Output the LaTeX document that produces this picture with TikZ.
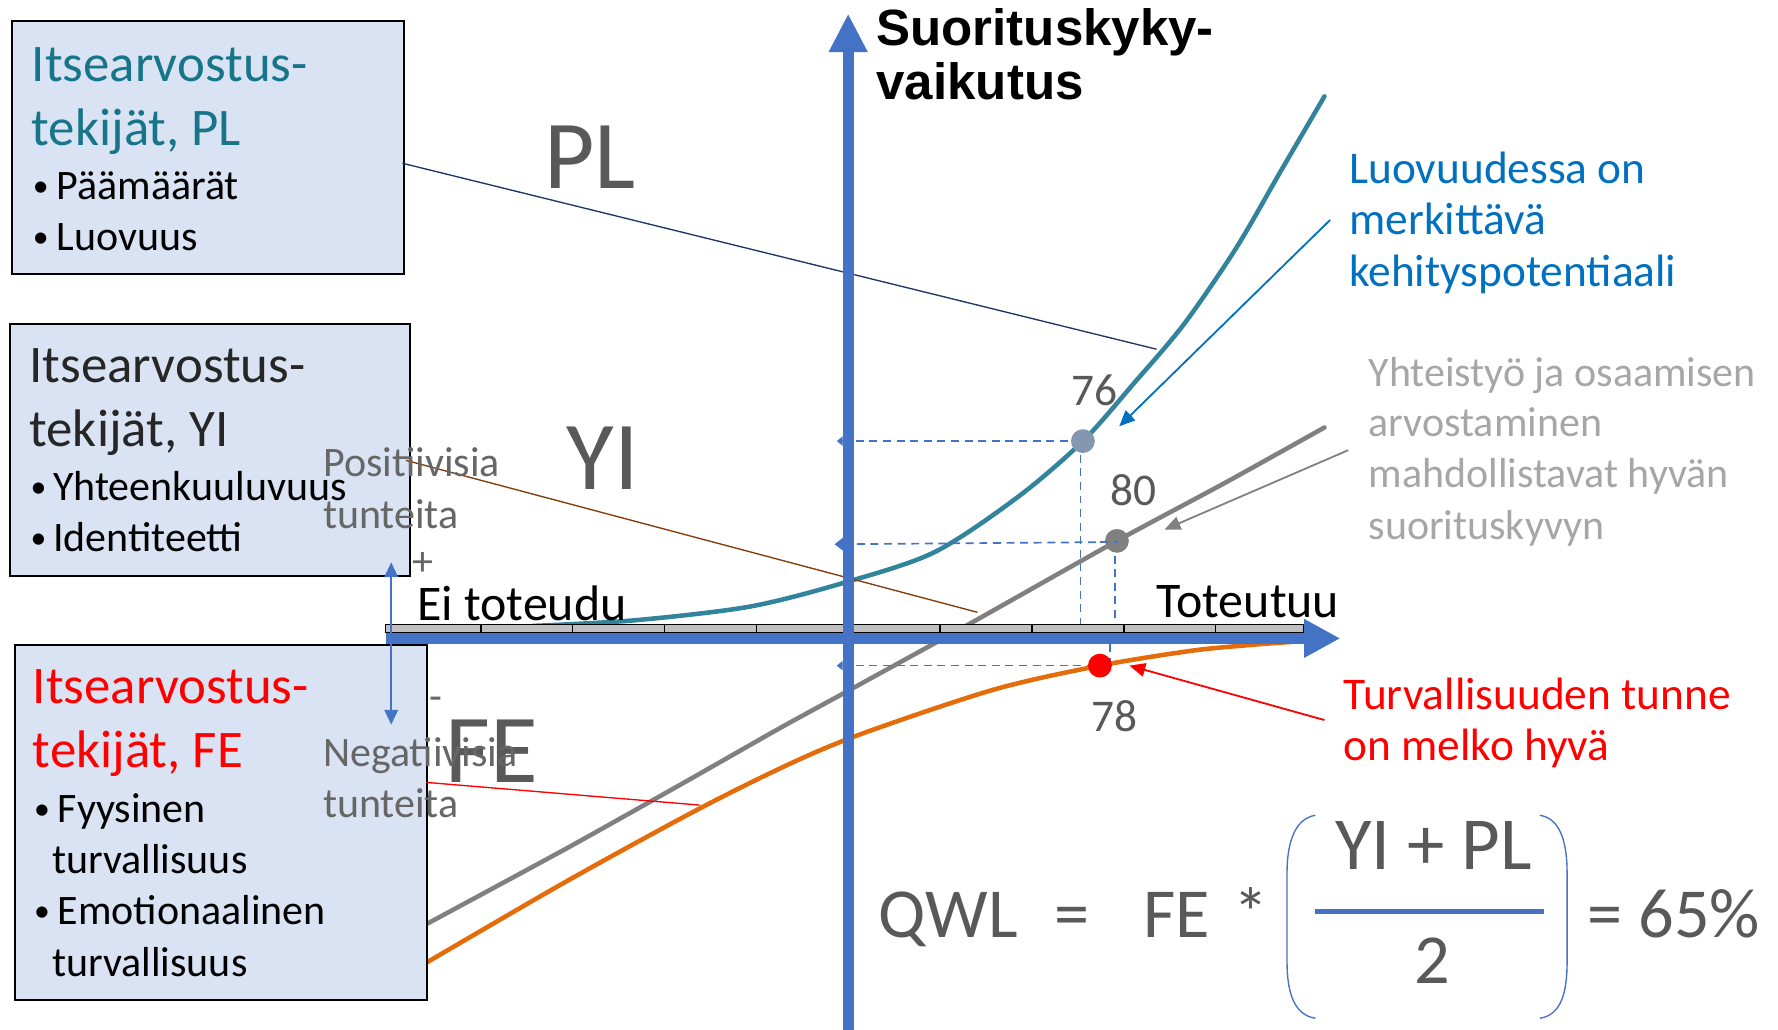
\documentclass[tikz,border=0pt]{standalone}
\usepackage{fontspec}
\setmainfont{Carlito}
\newfontfamily\axisfont{Liberation Sans}
\usetikzlibrary{arrows.meta}
\definecolor{axisblue}{HTML}{4472C4}
\definecolor{boxfill}{HTML}{DAE3F3}
\definecolor{plteal}{HTML}{31849B}
\definecolor{plhead}{HTML}{17758A}
\definecolor{darkgraytxt}{HTML}{595959}
\definecolor{midgraytxt}{HTML}{666666}
\definecolor{lightgraytxt}{HTML}{A6A6A6}
\definecolor{noteblue}{HTML}{0070C0}
\definecolor{navyline}{HTML}{203864}
\definecolor{brownline}{HTML}{843C0C}
\definecolor{curveorange}{HTML}{E46C0A}
\definecolor{curvegray}{HTML}{808080}
\definecolor{dotblue}{HTML}{8497B0}
\definecolor{bandgray}{HTML}{BFBFBF}
\definecolor{yihead}{HTML}{262626}
\newcommand{\hdsize}{\fontsize{23.3pt}{28pt}\selectfont}
\newcommand{\blsize}{\fontsize{18.5pt}{22pt}\selectfont}
\newcommand{\bigsize}{\fontsize{43pt}{50pt}\selectfont}
\newcommand{\frmsize}{\fontsize{31pt}{36pt}\selectfont}
\newcommand{\bulsym}{\raisebox{1.2pt}{\fontsize{14pt}{16pt}\selectfont •}}
\begin{document}
\begin{tikzpicture}[x=0.5pt,y=-0.5pt,
  txt/.style={anchor=base west, inner sep=0pt, outer sep=0pt},
  ctxt/.style={anchor=base, inner sep=0pt, outer sep=0pt},
  boxst/.style={draw=black, line width=0.9pt, fill=boxfill, anchor=north west, inner sep=0pt},
  curvest/.style={line width=2pt, line cap=round},
  dashst/.style={axisblue, line width=0.75pt, dash pattern=on 3.5pt off 2.5pt},
  thinline/.style={line width=0.6pt},
  notearrow/.style={line width=0.8pt, -{Triangle[length=7pt,width=6pt]}},
  dotst/.style={circle, inner sep=0pt, minimum size=10.5pt}
]
\useasboundingbox (0,0) rectangle (1568,908);

% curves
\draw[curvest, curvegray] plot[smooth, tension=0.4] coordinates
  {(376,815) (500,748) (600,692) (688,642) (752,607) (850,553) (985,477) (1080,426) (1168,377)};
\draw[curvest, curveorange] plot[smooth, tension=0.5] coordinates
  {(376,849) (500,777) (617,713) (700,672) (763,646) (877,608) (970,587) (1050,574) (1100,569) (1140,566)};
\draw[curvest, plteal] plot[smooth, tension=0.5] coordinates
  {(470,552) (560,547) (661,535) (744,514) (824,487) (898,438) (955,389) (1000,338) (1044,286) (1090,219) (1130,150) (1168,85)};

% dashed guide lines
\draw[dashst, {Triangle[length=2.5pt,width=4pt]}-] (738,389) -- (955,389);
\draw[dashst] (953,389) -- (953,556);
\draw[dashst, {Triangle[length=4pt,width=6pt]}-] (736,480) -- (985,478);
\draw[dashst] (983,478) -- (983,556);
\draw[dashst, {Triangle[length=2.5pt,width=4pt]}-] (738,587) -- (970,587);
\draw[dashst] (979,568) -- (979,587);

% named coordinates for connector ends
\coordinate (plend) at (1020,308);
\coordinate (yiend) at (862,540);
\coordinate (feend) at (617,710);
\coordinate (bluestart) at (1173,194);
\coordinate (blueend) at (987,376);
\coordinate (graystart) at (1189,397);
\coordinate (grayend) at (1027,467);
\coordinate (redstart) at (1168,635);
\coordinate (redend) at (996,587);

% boxes
\node[boxst, minimum width=172.5pt, minimum height=111.5pt] (plbox) at (10,18) {};
\node[boxst, minimum width=176.5pt, minimum height=111pt] (yibox) at (8,285) {};
\node[boxst, minimum width=182pt, minimum height=156.5pt] (febox) at (12,568) {};

\coordinate (plstart) at (355,144);
\coordinate (yistart) at (358,406);
\coordinate (festart) at (376,690);

% connector lines from boxes
\draw[thinline, navyline] (plstart) -- (plend);
\draw[thinline, brownline] (yistart) -- (yiend);
\draw[thinline, red] (festart) -- (feend);

% ruler band and axes
\draw[line width=0.6pt, fill=bandgray] (340,551) rectangle (1150,558);
\foreach \tx in {424,505,586,667,748,829,910,991,1072}
  \draw[line width=0.7pt] (\tx,551) -- (\tx,558);
\draw[axisblue, line width=5pt, -{Triangle[length=16pt,width=16pt]}] (340,563) -- (1182,563);
\draw[axisblue, line width=5pt, -{Triangle[length=17pt,width=16pt]}] (748,908) -- (748,12);

% small +/- arrow
\draw[axisblue, line width=0.7pt, {Triangle[length=6.5pt,width=6pt]}-{Triangle[length=6.5pt,width=6pt]}] (345,496) -- (345,639);

% box texts
\node[txt, text=plhead] (pl1) at (28,72) {\hdsize Itsearvostus-};
\node[txt, text=plhead] (pl2) at (28,128) {\hdsize tekijät, PL};
\node[txt] (plb1) at (29,176) {\bulsym};
\node[txt] (plt1) at (50,176) {\blsize Päämäärät};
\node[txt] (plb2) at (29,221) {\bulsym};
\node[txt] (plt2) at (50,221) {\blsize Luovuus};

\node[txt, text=yihead] (yi1) at (26,337) {\hdsize Itsearvostus-};
\node[txt, text=yihead] (yi2) at (26,394) {\hdsize tekijät, YI};
\node[txt] (yib1) at (27,441) {\bulsym};
\node[txt] (yit1) at (47,441) {\blsize Yhteenkuuluvuus};
\node[txt] (yib2) at (27,486) {\bulsym};
\node[txt] (yit2) at (47,486) {\blsize Identiteetti};

\node[txt, text=red] (fe1) at (29,620) {\hdsize Itsearvostus-};
\node[txt, text=red] (fe2) at (29,677) {\hdsize tekijät, FE};
\node[txt] (feb1) at (30,725) {\bulsym};
\node[txt] (fet1) at (51,725) {\blsize Fyysinen};
\node[txt] (fet2) at (46,770) {\blsize turvallisuus};
\node[txt] (feb2) at (30,815) {\bulsym};
\node[txt] (fet3) at (51,815) {\blsize Emotionaalinen};
\node[txt] (fet4) at (46,861) {\blsize turvallisuus};

% big labels
\node[txt, text=darkgraytxt] (lblpl) at (480,166) {\bigsize PL};
\node[txt, text=darkgraytxt] (lblyi) at (500,432) {\bigsize YI};
\node[txt, text=darkgraytxt] (lblfe) at (393,690) {\bigsize FE};

% feelings labels
\node[txt, text=midgraytxt] (pos1) at (285,420) {\blsize Positiivisia};
\node[txt, text=midgraytxt] (pos2) at (285,466) {\blsize tunteita};
\node[txt, text=midgraytxt] (neg1) at (285,676) {\blsize Negatiivisia};
\node[txt, text=midgraytxt] (neg2) at (285,721) {\blsize tunteita};
\node[anchor=center, inner sep=0pt, text=midgraytxt] (plus) at (373,497) {\blsize +};
\node[anchor=center, inner sep=0pt, text=midgraytxt] (minus) at (384,621) {\blsize -};

% axis labels
\node[txt] (eitot) at (368,547) {\fontsize{22pt}{26pt}\selectfont Ei toteudu};
\node[txt] (tot) at (1020,545) {\fontsize{22pt}{26pt}\selectfont Toteutuu};
\node[txt] (yl1) at (773,40) {\axisfont\bfseries\fontsize{22.5pt}{26pt}\selectfont Suorituskyky-};
\node[txt] (yl2) at (773,88) {\axisfont\bfseries\fontsize{22.5pt}{26pt}\selectfont vaikutus};

% values
\node[ctxt, text=darkgraytxt] (v76) at (965,358) {\fontsize{20pt}{24pt}\selectfont 76};
\node[ctxt, text=darkgraytxt] (v80) at (1000,446) {\fontsize{20pt}{24pt}\selectfont 80};
\node[ctxt, text=darkgraytxt] (v78) at (983,645) {\fontsize{20pt}{24pt}\selectfont 78};

% dots
\node[dotst, fill=dotblue] (d76) at (955,389) {};
\node[dotst, fill=curvegray] (d80) at (985,477) {};
\node[dotst, fill=red] (d78) at (970,587) {};
\draw[dashst] (970,478) -- (985,478);

% notes
\node[txt, text=noteblue] (n1) at (1190,162) {\fontsize{20pt}{24pt}\selectfont Luovuudessa on};
\node[txt, text=noteblue] (n2) at (1190,207) {\fontsize{20pt}{24pt}\selectfont merkittävä};
\node[txt, text=noteblue] (n3) at (1190,253) {\fontsize{20pt}{24pt}\selectfont kehityspotentiaali};
\node[txt, text=lightgraytxt] (g1) at (1207,341) {\blsize Yhteistyö ja osaamisen};
\node[txt, text=lightgraytxt] (g2) at (1207,385) {\blsize arvostaminen};
\node[txt, text=lightgraytxt] (g3) at (1207,430) {\blsize mahdollistavat hyvän};
\node[txt, text=lightgraytxt] (g4) at (1207,476) {\blsize suorituskyvyn};
\node[txt, text=red] (r1) at (1185,626) {\fontsize{20pt}{24pt}\selectfont Turvallisuuden tunne};
\node[txt, text=red] (r2) at (1185,671) {\fontsize{20pt}{24pt}\selectfont on melko hyvä};

\draw[notearrow, noteblue] (bluestart) -- (blueend);
\draw[notearrow, curvegray] (graystart) -- (grayend);
\draw[notearrow, red] (redstart) -- (redend);

% formula
\node[txt, text=darkgraytxt] (fq) at (775,827) {\frmsize QWL};
\node[txt, text=darkgraytxt] (feq) at (930,827) {\frmsize =};
\node[txt, text=darkgraytxt] (ffe) at (1008,827) {\frmsize FE};
\node[txt, text=darkgraytxt] (fst) at (1088,827) {\frmsize *};
\node[ctxt, text=darkgraytxt] (fnum) at (1264,767) {\fontsize{33pt}{38pt}\selectfont YI + PL};
\node[ctxt, text=darkgraytxt] (fden) at (1263,867) {\frmsize 2};
\node[txt, text=darkgraytxt] (fres) at (1400,827) {\frmsize = 65\%};
\draw[axisblue, line width=2.2pt] (1160,804) -- (1362,804);
\draw[axisblue, line width=0.6pt] (1160,719) .. controls (1141,722) and (1135,745) .. (1135,770) -- (1135,848) .. controls (1135,875) and (1141,895) .. (1160,898);
\draw[axisblue, line width=0.6pt] (1358,719) .. controls (1377,722) and (1382,745) .. (1382,770) -- (1382,848) .. controls (1382,875) and (1377,895) .. (1358,898);
\end{tikzpicture}
\end{document}
